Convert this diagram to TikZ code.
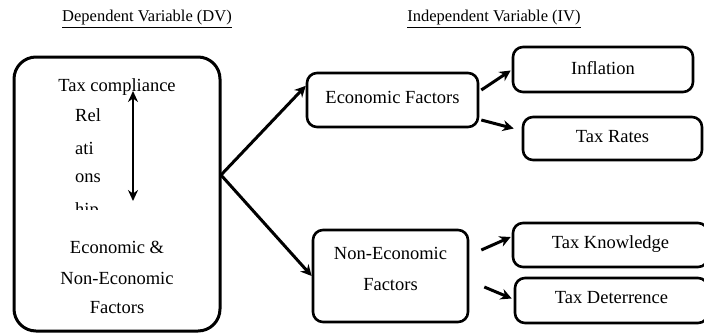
\documentclass[tikz,border=0pt]{standalone}
\usepackage{fontspec}
\setmainfont{Liberation Serif}
\usetikzlibrary{arrows.meta,calc}
\begin{document}
\begin{tikzpicture}[x=1pt,y=-1pt,
  txt/.style={inner sep=0pt,font=\fontsize{18.5}{21}\selectfont},
  head/.style={inner sep=0pt,font=\fontsize{16.5}{19}\selectfont},
  rbox/.style={draw,line width=2.6pt,rounded corners=10pt,inner sep=0pt},
  bigbox/.style={draw,line width=3pt,rounded corners=22pt,inner sep=0pt},
  arr/.style={line width=3pt,-{Stealth[length=11pt,width=11pt]}},
  darr/.style={line width=2.6pt,{Stealth[length=11pt,width=10pt]}-{Stealth[length=11pt,width=10pt]}}
]
\useasboundingbox (0,0) rectangle (704,333);
\clip (0,0) rectangle (704,333);
% headings
\node[head] (hdv) at (147,19) {\underline{Dependent Variable (DV)}};
\node[head] (hiv) at (494,19) {\underline{Independent Variable (IV)}};
% big box
\node[bigbox,minimum width=206pt,minimum height=274pt] (dv) at (117,194) {};
\node[txt] (tc) at (117,87) {Tax compliance};
\node[txt,anchor=west] (r1) at (75,115) {Rel};
\node[txt,anchor=west] (r2) at (75,148) {ati};
\node[txt,anchor=west] (r3) at (75,178) {ons};
\begin{scope}
\clip (60,195) rectangle (130,209);
\node[txt,anchor=west] (r4) at (75,211) {hip};
\end{scope}
\coordinate (atop) at (133,91);
\coordinate (abot) at (133,201);
\draw[darr] (atop) -- (abot);
\node[txt] (e1) at (117,247) {Economic \&};
\node[txt] (e2) at (117,278) {Non-Economic};
\node[txt] (e3) at (117,308) {Factors};
% middle boxes
\node[rbox,minimum width=171pt,minimum height=54pt] (econ) at (392.5,100) {};
\node[txt] (econt) at (392.5,97) {Economic Factors};
\node[rbox,minimum width=155pt,minimum height=92pt] (nonecon) at (390.5,276) {};
\node[txt] (ne1) at (390.5,253) {Non-Economic};
\node[txt] (ne2) at (390.5,285) {Factors};
% right boxes
\node[rbox,minimum width=180pt,minimum height=45pt] (infl) at (603,69.5) {};
\node[txt] (inflt) at (603,68) {Inflation};
\node[rbox,minimum width=179pt,minimum height=43pt] (rates) at (612.5,138.5) {};
\node[txt] (ratest) at (612.5,137) {Tax Rates};
\node[rbox,minimum width=195pt,minimum height=44pt] (know) at (610.5,245) {};
\node[txt] (knowt) at (610.5,244) {Tax Knowledge};
\node[rbox,minimum width=193pt,minimum height=45pt] (det) at (611.5,300.5) {};
\node[txt] (dett) at (611.5,298) {Tax Deterrence};
% connectors
\coordinate (split) at (221,175);
\draw[arr] (split) -- ($(econ.north west)!0.25!(econ.south west)$);
\draw[arr] (split) -- (nonecon.west);
\draw[arr] ($(econ.east)+(2,-10)$) -- ($(infl.west)+(-1,1)$);
\draw[arr] ($(econ.east)+(2,20)$) -- ($(rates.west)+(-8,-10)$);
\draw[arr] ($(nonecon.east)+(12,-26)$) -- ($(know.west)+(-1,-8)$);
\draw[arr] ($(nonecon.east)+(15,11)$) -- ($(det.west)+(-2,-2)$);
\end{tikzpicture}
\end{document}
